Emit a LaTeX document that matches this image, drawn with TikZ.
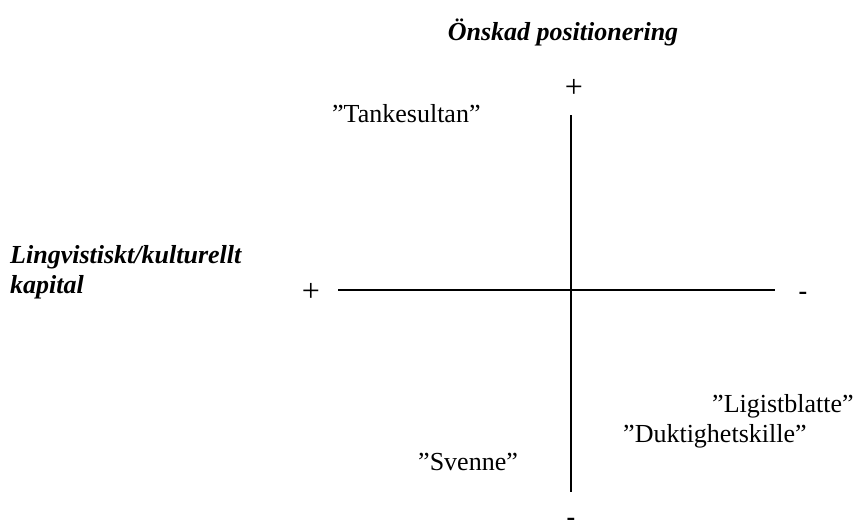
\documentclass[tikz,border=0pt]{standalone}
\usepackage{fontspec}
\setmainfont{Liberation Serif}
\begin{document}
\begin{tikzpicture}[x=1pt,y=-1pt,
  lbl/.style={inner sep=0pt,font=\fontsize{26}{30}\selectfont},
  sign/.style={inner sep=0pt,font=\fontsize{32}{36}\selectfont},
  dashsign/.style={inner sep=0pt,font=\fontsize{26}{30}\selectfont\bfseries},
  head/.style={inner sep=0pt,font=\fontsize{26}{30}\selectfont\bfseries\itshape},
  axis/.style={line width=2.2pt}]
\useasboundingbox (0,0) rectangle (853,531);
% axes
\coordinate (vtop) at (571,115);
\coordinate (vbot) at (571,492);
\coordinate (hleft) at (338,290);
\coordinate (hright) at (775,290);
\draw[axis] (vtop) -- (vbot);
\draw[axis] (hleft) -- (hright);
% headings
\node[head,anchor=base] (title) at (563,40) {Önskad positionering};
\node[head,anchor=base west] (ling) at (10,263) {Lingvistiskt/kulturellt};
\node[head,anchor=base west] (kap) at (10,293) {kapital};
% signs
\node[sign,anchor=center] (ptop) at (574,88) {+};
\node[sign,anchor=center] (pleft) at (311,292) {+};
\node[dashsign,anchor=base] (mright) at (803,299) {-};
\node[dashsign,anchor=base] (mbot) at (571,525) {-};
% labels
\node[lbl,anchor=base west] (tank) at (332,122) {”Tankesultan”};
\node[lbl,anchor=base west] (lig) at (712,412) {”Ligistblatte”};
\node[lbl,anchor=base west] (dukt) at (623,442) {”Duktighetskille”};
\node[lbl,anchor=base west] (sven) at (418,470) {”Svenne”};
\end{tikzpicture}
\end{document}
